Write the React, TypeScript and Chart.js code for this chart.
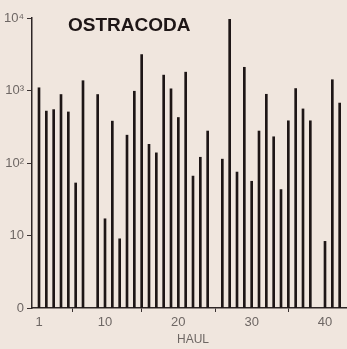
import React, { useEffect, useRef } from "react";
import { Chart, registerables } from "chart.js";

Chart.register(...registerables);

const hauls = [
  1, 2, 3, 4, 5, 6, 7, 8, 9, 10, 11, 12, 13, 14, 15, 16, 17, 18, 19, 20, 21,
  22, 23, 24, 25, 26, 27, 28, 29, 30, 31, 32, 33, 34, 35, 36, 37, 38, 39, 40,
  41, 42,
];
const counts: (number | null)[] = [
  1090, 520, 545, 880, 506, 53, 1365, null, 880, 17, 378, 9, 242, 977, 3130,
  181, 138, 1630, 1055, 424, 1790, 66, 120, 276, null, 113, 9600, 75, 2090, 56,
  276, 887, 230, 43, 382, 1064, 557, 382, null, 8.3, 1408, 671,
];
const yTickValues = [1, 10, 100, 1000, 10000];
const yTickLabels = ["0", "10", "10²", "10³", "10⁴"];
const xTickValues = [1, 10, 20, 30, 40];
const chartTitle = "OSTRACODA";
const xAxisTitle = "HAUL";

const BG = "#f0e6de";
const INK = "#1e1616";
const GREY = "#6e6764";

export default function App() {
  const ref = useRef<HTMLCanvasElement | null>(null);

  useEffect(() => {
    if (!ref.current) return;
    const points = hauls
      .map((h, i) => ({ x: h, y: counts[i] }))
      .filter((p) => p.y !== null) as { x: number; y: number }[];

    const decor = {
      id: "decor",
      beforeDraw(chart: any) {
        const ctx = chart.ctx;
        ctx.save();
        ctx.fillStyle = BG;
        ctx.fillRect(0, 0, chart.width, chart.height);
        ctx.restore();
      },
      afterDraw(chart: any) {
        const ctx = chart.ctx;
        const a = chart.chartArea;
        ctx.save();
        ctx.fillStyle = INK;
        ctx.font = "bold 19px 'Liberation Sans', Arial, sans-serif";
        ctx.textBaseline = "middle";
        ctx.textAlign = "left";
        ctx.fillText(chartTitle, a.left + 36, a.top + 8);
        ctx.fillStyle = GREY;
        ctx.font = "12px 'Liberation Sans', Arial, sans-serif";
        ctx.textAlign = "center";
        ctx.fillText(xAxisTitle, a.left + 161, a.bottom + 32);
        ctx.restore();
      },
    };

    const chart = new Chart(ref.current, {
      type: "bar",
      data: {
        datasets: [
          {
            data: points as any,
            backgroundColor: INK,
            borderWidth: 0,
            barThickness: 2,
          },
        ],
      },
      options: {
        animation: false,
        responsive: false,
        maintainAspectRatio: false,
        layout: { padding: { top: 18, right: 0, left: 0, bottom: 0 } },
        plugins: {
          legend: { display: false },
          tooltip: { enabled: false },
          title: { display: false },
        },
        scales: {
          x: {
            type: "linear",
            min: 0.045,
            max: 43,
            offset: false,
            afterFit: (s: any) => {
              s.height = 41;
            },
            afterBuildTicks: (s: any) => {
              s.ticks = xTickValues.map((v) => ({ value: v }));
            },
            grid: {
              drawOnChartArea: false,
              drawTicks: true,
              tickLength: 4,
              color: "#3a3232",
              lineWidth: 1,
            },
            border: { display: true, color: "#2e2626", width: 1.5 },
            ticks: {
              color: GREY,
              padding: 3,
              maxRotation: 0,
              autoSkip: false,
              font: { family: "'Liberation Sans', Arial, sans-serif", size: 13 },
              callback: (v: any) => String(v),
            },
          },
          y: {
            type: "logarithmic",
            min: 1,
            max: 10000,
            afterFit: (s: any) => {
              s.width = 32;
            },
            afterBuildTicks: (s: any) => {
              s.ticks = yTickValues.map((v) => ({ value: v }));
            },
            grid: {
              drawOnChartArea: false,
              drawTicks: true,
              tickLength: 5,
              color: "#3a3232",
              lineWidth: 1,
            },
            border: { display: true, color: "#2e2626", width: 1.5 },
            ticks: {
              color: GREY,
              padding: 3,
              autoSkip: false,
              font: { family: "'Liberation Sans', Arial, sans-serif", size: 13 },
              callback: (v: any) => {
                const i = yTickValues.indexOf(Number(v));
                return i >= 0 ? yTickLabels[i] : "";
              },
            },
          },
        },
      },
      plugins: [decor],
    });
    return () => chart.destroy();
  }, []);

  return (
    <div style={{ position: "absolute", left: 0, top: 0, width: 347, height: 349, background: BG }}>
      <canvas ref={ref} width={347} height={349} style={{ display: "block" }} />
    </div>
  );
}
